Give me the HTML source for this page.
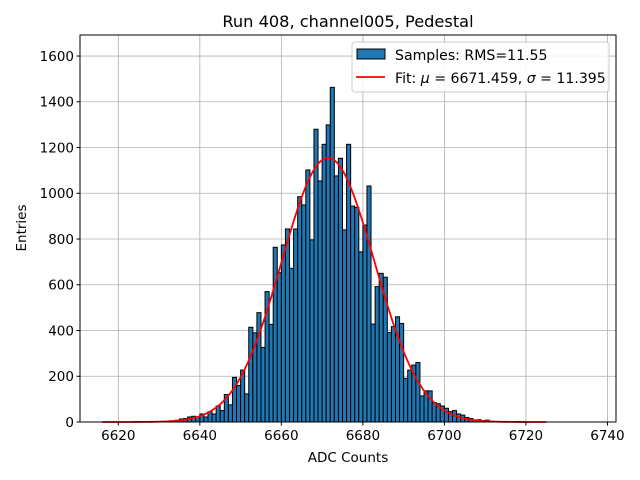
<!DOCTYPE html>
<html><head><meta charset="utf-8"><style>
body{margin:0;background:#fff;}
svg{display:block;font-family:"DejaVu Sans","Liberation Sans",sans-serif;}
</style></head><body>
<svg id="chart" width="640" height="480" viewBox="0 0 640 480" xmlns="http://www.w3.org/2000/svg">
<rect width="640" height="480" fill="#fff"/>
<g id="grid"></g>
<g id="bars"></g>
<path id="fit" fill="none" stroke="#ff0000" stroke-width="1.8"/>
<rect x="80" y="35" width="536" height="387" fill="none" stroke="#000" stroke-width="1"/>
<g id="ticks"></g>
<text x="348" y="27" text-anchor="middle" font-size="16.2">Run 408, channel005, Pedestal</text>
<text x="348" y="462" text-anchor="middle" font-size="13.5">ADC Counts</text>
<text transform="translate(26,228) rotate(-90)" text-anchor="middle" font-size="13.5">Entries</text>
<g>
<rect x="352" y="42" width="257" height="50" rx="3" fill="#fff" fill-opacity="0.85" stroke="#ccc"/>
<rect x="357" y="49" width="28" height="10" fill="#1f77b4" stroke="#000"/>
<text x="395" y="60" font-size="14.1">Samples: RMS=11.55</text>
<line x1="356" y1="77" x2="385" y2="77" stroke="#ff0000" stroke-width="1.8"/>
<text x="395" y="83" font-size="14.1">Fit: <tspan font-style="italic">μ</tspan> = 6671.459, <tspan font-style="italic">σ</tspan> = 11.395</text>
</g>
</svg>
<script>
const binStarts = [6632,6633,6634,6635,6636,6637,6638,6639,6640,6641,6642,6643,6644,6645,6646,6647,6648,6649,6650,6651,6652,6653,6654,6655,6656,6657,6658,6659,6660,6661,6662,6663,6664,6665,6666,6667,6668,6669,6670,6671,6672,6673,6674,6675,6676,6677,6678,6679,6680,6681,6682,6683,6684,6685,6686,6687,6688,6689,6690,6691,6692,6693,6694,6695,6696,6697,6698,6699,6700,6701,6702,6703,6704,6705,6706,6707,6708,6709,6710,6711,6712];
const counts = [3,5,8,13,15,22,25,22,35,22,45,35,70,50,120,75,195,160,227,123,414,390,478,326,570,427,764,653,774,844,672,844,985,949,1102,796,1280,1054,1214,1299,1463,1076,1153,840,1214,944,938,744,861,1032,428,592,650,633,391,417,460,431,191,227,249,260,114,136,136,85,80,70,60,45,50,35,30,20,15,8,10,5,8,3,2];
const fitMu = 6671.459, fitSigma = 11.395, fitPeak = 1155, fitMin = 6616, fitMax = 6725;
const xTicks = [6620,6640,6660,6680,6700,6720,6740];
const yTicks = [0,200,400,600,800,1000,1200,1400,1600];
const binWidth = 1;

const X0=80,X1=616,Y0=422,Y1=35, xmin=6610.6,xmax=6742.1,ymin=0,ymax=1692;
const sx=v=>X0+(v-xmin)/(xmax-xmin)*(X1-X0);
const sy=v=>Y0-(v-ymin)/(ymax-ymin)*(Y0-Y1);
const NS="http://www.w3.org/2000/svg";
const mk=(t,a,p)=>{const e=document.createElementNS(NS,t);for(const k in a)e.setAttribute(k,a[k]);p.appendChild(e);return e;};
const grid=document.getElementById('grid'),ticks=document.getElementById('ticks'),bars=document.getElementById('bars');
xTicks.forEach(v=>{
  const g=mk('line',{x1:sx(v),x2:sx(v),y1:Y1,y2:Y0,stroke:'#b0b0b0','stroke-width':0.8},grid);
  
  
  const t=mk('line',{x1:sx(v),x2:sx(v),y1:Y0,y2:Y0+3.5,stroke:'#000'},ticks);
  
  
  const l=mk('text',{x:sx(v),y:Y0+18,'text-anchor':'middle','font-size':13.5},ticks);
  l.textContent=v;
  
  
});
yTicks.forEach(v=>{
  const g=mk('line',{x1:X0,x2:X1,y1:sy(v),y2:sy(v),stroke:'#b0b0b0','stroke-width':0.8},grid);
  
  
  const t=mk('line',{x1:X0-3.5,x2:X0,y1:sy(v),y2:sy(v),stroke:'#000'},ticks);
  
  
  const l=mk('text',{x:X0-6,y:sy(v)+4.8,'text-anchor':'end','font-size':13.5},ticks);
  l.textContent=v;
  
  
});
binStarts.forEach((b,i)=>{
  const x=sx(b),w=sx(b+binWidth)-x,y=sy(counts[i]);
  const r=mk('rect',{x:x,y:y,width:w,height:Y0-y,fill:'#1f77b4',stroke:'#000','stroke-width':1},bars);
  
  
});
let d='';
for(let i=0;i<=300;i++){const v=fitMin+(fitMax-fitMin)*i/300;const c=fitPeak*Math.exp(-0.5*((v-fitMu)/fitSigma)**2);d+=(i?'L':'M')+sx(v).toFixed(2)+' '+sy(c).toFixed(2);}
document.getElementById('fit').setAttribute('d',d);
</script>
</body></html>
